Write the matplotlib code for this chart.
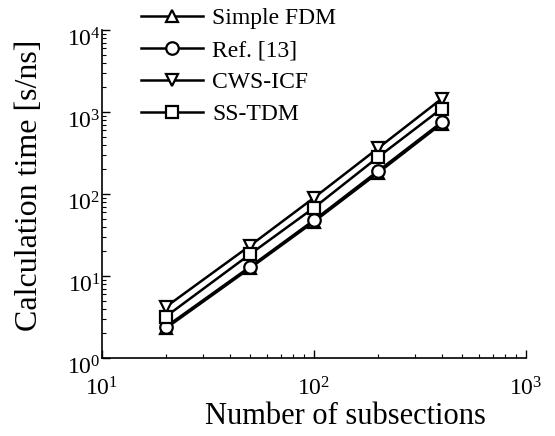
import matplotlib
matplotlib.use("Agg")
import matplotlib.pyplot as plt
import matplotlib.transforms as mtransforms
from matplotlib.ticker import LogLocator, NullFormatter, LogFormatterMathtext

plt.rcParams['font.family'] = ['Liberation Serif', 'DejaVu Serif']
plt.rcParams['mathtext.fontset'] = 'custom'
plt.rcParams['mathtext.rm'] = 'Liberation Serif'
plt.rcParams['mathtext.it'] = 'Liberation Serif:italic'
plt.rcParams['mathtext.bf'] = 'Liberation Serif:bold'

subsections = [20, 50, 100, 200, 400]
simple_fdm = [2.3, 12.5, 46, 180, 720]
ref13 = [2.4, 13.0, 48, 190, 750]
cws_icf = [4.2, 23.5, 90, 360, 1450]
ss_tdm = [3.2, 18.5, 68, 280, 1100]

series = [
    ("Simple FDM", simple_fdm, "^"),
    ("Ref. [13]", ref13, "o"),
    ("CWS-ICF", cws_icf, "v"),
    ("SS-TDM", ss_tdm, "s"),
]

fig = plt.figure(figsize=(5.55, 4.36), dpi=100)
ax = fig.add_axes([102/555, 1-358/436, (526-102)/555, (358-30)/436])

handles = []
for name, vals, m in series:
    h, = ax.plot(subsections, vals, color='black', lw=1.8, marker=m,
                 markersize=9, markerfacecolor='white', markeredgecolor='black',
                 markeredgewidth=1.6, label=name)
    handles.append(h)

ax.set_xscale('log')
ax.set_yscale('log')
ax.set_xlim(10, 1000)
ax.set_ylim(1, 10000)

for s in ['top', 'right']:
    ax.spines[s].set_visible(False)
for s in ['left', 'bottom']:
    ax.spines[s].set_linewidth(1.2)

ax.xaxis.set_major_locator(LogLocator(base=10, numticks=10))
ax.yaxis.set_major_locator(LogLocator(base=10, numticks=10))
ax.xaxis.set_minor_locator(LogLocator(base=10, subs=range(2, 10), numticks=20))
ax.yaxis.set_minor_locator(LogLocator(base=10, subs=range(2, 10), numticks=20))
ax.xaxis.set_minor_formatter(NullFormatter())
ax.yaxis.set_minor_formatter(NullFormatter())
ax.xaxis.set_major_formatter(LogFormatterMathtext())
ax.yaxis.set_major_formatter(LogFormatterMathtext())

ax.tick_params(which='major', direction='in', length=6, width=1.0, labelsize=17)
ax.tick_params(which='minor', direction='in', length=3, width=0.8)
ax.tick_params(axis='y', which='major', pad=1)
ax.tick_params(axis='x', which='major', pad=14)

# y tick labels: superscript level with the tick, base number just below it
offset = mtransforms.ScaledTranslation(0, -7/100, fig.dpi_scale_trans)
for lab in ax.get_yticklabels():
    lab.set_transform(lab.get_transform() + offset)

ax.set_xlabel("Number of subsections", fontsize=22)
ax.set_ylabel("Calculation time [s/ns]", fontsize=23)
ax.xaxis.set_label_coords((345-102)/424, -(402-358)/328)
ax.yaxis.set_label_coords(-(102-44)/424, (358-185)/328)

leg = fig.legend(handles=handles, loc='upper left', bbox_to_anchor=(132/555, 1.0 + 2/436),
                 frameon=False, fontsize=17, handlelength=2.6, handletextpad=0.4,
                 labelspacing=0.45, borderaxespad=0.0)

fig.savefig("out.png", dpi=100)
